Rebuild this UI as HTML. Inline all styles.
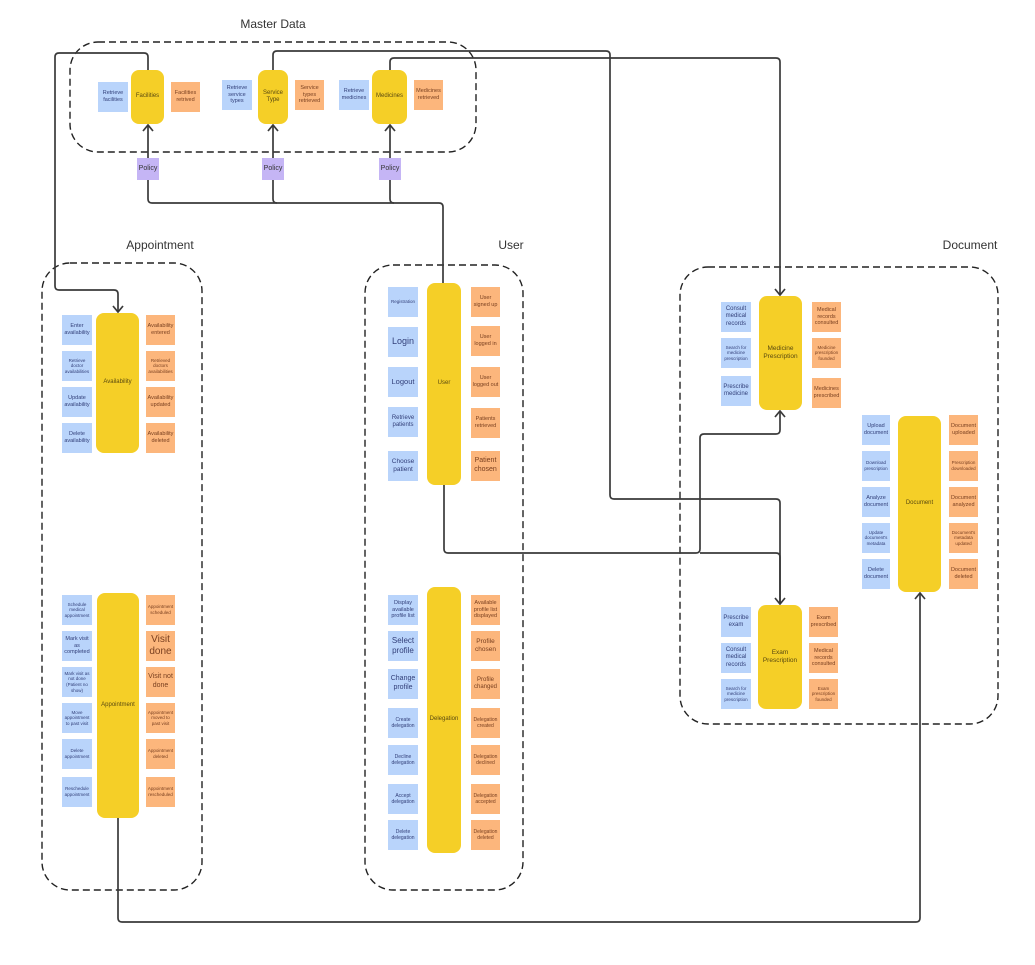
<!DOCTYPE html>
<html><head><meta charset="utf-8"><style>
body{margin:0;width:1035px;height:965px;background:#fff;position:relative;overflow:hidden;font-family:"Liberation Sans",sans-serif}
.b,.o,.y,.p{position:absolute;display:flex;align-items:center;justify-content:center;text-align:center;line-height:1.25;box-sizing:border-box;padding:1px}
.b{background:#b9d4fb;color:#33407a;font-size:5.5px;width:30px;height:30px}
.o{background:#fcb67c;color:#7a4020;font-size:5.5px;width:29px;height:30px}
.y{background:#f5cf27;border-radius:8px;color:#5a4a10;font-size:6px}
.p{background:#c5b5f5;color:#333;font-size:7px;width:22px;height:22px}
.t{position:absolute;font-size:12px;color:#333;transform:translateX(-50%)}
svg{position:absolute;left:0;top:0}
</style></head><body>
<svg width="1035" height="965">
<g fill="none" stroke="#222" stroke-width="1.4" stroke-dasharray="7,4">
<rect x="70" y="42" width="406" height="110" rx="28"/>
<rect x="42" y="263" width="160" height="627" rx="28"/>
<rect x="365" y="265" width="158" height="625" rx="28"/>
<rect x="680" y="267" width="318" height="457" rx="28"/>
</g>
<g fill="none" stroke="#3a3a3a" stroke-width="1.7">
<path d="M148 70 V57 q0-4-4-4 H59 q-4 0-4 4 V286 q0 4 4 4 H114 q4 0 4 4 V312"/>
<path d="M273 70 V55 q0-4 4-4 H606 q4 0 4 4 V495 q0 4 4 4 H776 q4 0 4 4 V604"/>
<path d="M390 70 V62 q0-4 4-4 H776 q4 0 4 4 V295"/>
<path d="M148 125 V199 q0 4 4 4 H439 q4 0 4 4 V283"/>
<path d="M273 125 V199 q0 4 4 4"/>
<path d="M390 125 V199 q0 4 4 4"/>
<path d="M444 485 V549 q0 4 4 4 H696 q4 0 4-4 V438 q0-4 4-4 H776 q4 0 4-4 V411"/>
<path d="M700 553 H776 q4 0 4 4 V604"/>
<path d="M118 818 V918 q0 4 4 4 H916 q4 0 4-4 V593"/>
<path d="M113 306 l5 6 l5-6 M775 289 l5 6 l5-6 M775 598 l5 6 l5-6 M143 131 l5-6 l5 6 M268 131 l5-6 l5 6 M385 131 l5-6 l5 6 M775 417 l5-6 l5 6 M915 599 l5-6 l5 6"/>
</g>
</svg>
<div class="t" style="left:273px;top:17px">Master Data</div>
<div class="t" style="left:160px;top:238px">Appointment</div>
<div class="t" style="left:511px;top:238px">User</div>
<div class="t" style="left:970px;top:238px">Document</div>

<div class="b" style="left:98px;top:82px">Retrieve facilities</div>
<div class="y" style="left:131px;top:70px;width:33px;height:54px">Facilities</div>
<div class="o" style="left:171px;top:82px">Facilities retrived</div>
<div class="b" style="left:222px;top:80px">Retrieve service types</div>
<div class="y" style="left:258px;top:70px;width:30px;height:54px">Service Type</div>
<div class="o" style="left:295px;top:80px">Service types retrieved</div>
<div class="b" style="left:339px;top:80px">Retrieve medicines</div>
<div class="y" style="left:372px;top:70px;width:35px;height:54px">Medicines</div>
<div class="o" style="left:414px;top:80px">Medicines retrieved</div>
<div class="p" style="left:137px;top:158px">Policy</div>
<div class="p" style="left:262px;top:158px">Policy</div>
<div class="p" style="left:379px;top:158px">Policy</div>

<div class="y" style="left:96px;top:313px;width:43px;height:140px">Availability</div>
<div class="b" style="left:62px;top:315px">Enter availability</div>
<div class="b" style="left:62px;top:351px;font-size:4.5px">Retrieve doctor availabilities</div>
<div class="b" style="left:62px;top:387px">Update availability</div>
<div class="b" style="left:62px;top:423px">Delete availability</div>
<div class="o" style="left:146px;top:315px">Availability entered</div>
<div class="o" style="left:146px;top:351px;font-size:4.5px">Retrieved doctors availabilities</div>
<div class="o" style="left:146px;top:387px">Availability updated</div>
<div class="o" style="left:146px;top:423px">Availability deleted</div>

<div class="y" style="left:97px;top:593px;width:42px;height:225px">Appointment</div>
<div class="b" style="left:62px;top:595px;font-size:4.5px">Schedule medical appointment</div>
<div class="b" style="left:62px;top:631px">Mark visit as completed</div>
<div class="b" style="left:62px;top:667px;font-size:4.5px">Mark visit as not done (Patient no show)</div>
<div class="b" style="left:62px;top:703px;font-size:4.5px">Move appointment to past visit</div>
<div class="b" style="left:62px;top:739px;font-size:4.5px">Delete appointment</div>
<div class="b" style="left:62px;top:777px;font-size:4.5px">Reschedule appointment</div>
<div class="o" style="left:146px;top:595px;font-size:4.5px">Appointment scheduled</div>
<div class="o" style="left:146px;top:631px;font-size:10px">Visit done</div>
<div class="o" style="left:146px;top:667px;font-size:7px">Visit not done</div>
<div class="o" style="left:146px;top:703px;font-size:4.5px">Appointment moved to past visit</div>
<div class="o" style="left:146px;top:739px;font-size:4.5px">Appointment deleted</div>
<div class="o" style="left:146px;top:777px;font-size:4.5px">Appointment rescheduled</div>

<div class="y" style="left:427px;top:283px;width:34px;height:202px">User</div>
<div class="b" style="left:388px;top:287px;font-size:4.5px">Registration</div>
<div class="b" style="left:388px;top:327px;font-size:9px">Login</div>
<div class="b" style="left:388px;top:367px;font-size:7.5px">Logout</div>
<div class="b" style="left:388px;top:407px;font-size:6px">Retrieve patients</div>
<div class="b" style="left:388px;top:451px;font-size:6.5px">Choose patient</div>
<div class="o" style="left:471px;top:287px">User signed up</div>
<div class="o" style="left:471px;top:326px">User logged in</div>
<div class="o" style="left:471px;top:367px">User logged out</div>
<div class="o" style="left:471px;top:408px">Patients retrieved</div>
<div class="o" style="left:471px;top:451px;font-size:7px">Patient chosen</div>

<div class="y" style="left:427px;top:587px;width:34px;height:266px">Delegation</div>
<div class="b" style="left:388px;top:595px">Display available profile list</div>
<div class="b" style="left:388px;top:631px;font-size:8px">Select profile</div>
<div class="b" style="left:388px;top:669px;font-size:7px">Change profile</div>
<div class="b" style="left:388px;top:708px;font-size:5px">Create delegation</div>
<div class="b" style="left:388px;top:745px;font-size:5px">Decline delegation</div>
<div class="b" style="left:388px;top:784px;font-size:5px">Accept delegation</div>
<div class="b" style="left:388px;top:820px;font-size:5px">Delete delegation</div>
<div class="o" style="left:471px;top:595px">Available profile list displayed</div>
<div class="o" style="left:471px;top:631px;font-size:6.5px">Profile chosen</div>
<div class="o" style="left:471px;top:669px;font-size:6px">Profile changed</div>
<div class="o" style="left:471px;top:708px;font-size:5px">Delegation created</div>
<div class="o" style="left:471px;top:745px;font-size:5px">Delegation declined</div>
<div class="o" style="left:471px;top:784px;font-size:5px">Delegation accepted</div>
<div class="o" style="left:471px;top:820px;font-size:5px">Delegation deleted</div>

<div class="y" style="left:759px;top:296px;width:43px;height:114px;font-size:6.5px">Medicine Prescription</div>
<div class="b" style="left:721px;top:302px;font-size:6px">Consult medical records</div>
<div class="b" style="left:721px;top:338px;font-size:4.5px">Search for medicine prescription</div>
<div class="b" style="left:721px;top:376px;font-size:6px">Prescribe medicine</div>
<div class="o" style="left:812px;top:302px">Medical records consulted</div>
<div class="o" style="left:812px;top:338px;font-size:4.5px">Medicine prescription founded</div>
<div class="o" style="left:812px;top:378px">Medicines prescribed</div>

<div class="y" style="left:898px;top:416px;width:43px;height:176px">Document</div>
<div class="b" style="left:862px;top:415px;width:28px">Upload document</div>
<div class="b" style="left:862px;top:451px;width:28px;font-size:4.5px">Download prescription</div>
<div class="b" style="left:862px;top:487px;width:28px">Analyze document</div>
<div class="b" style="left:862px;top:523px;width:28px;font-size:4.5px">Update document's metadata</div>
<div class="b" style="left:862px;top:559px;width:28px">Delete document</div>
<div class="o" style="left:949px;top:415px">Document uploaded</div>
<div class="o" style="left:949px;top:451px;font-size:4.5px">Prescription downloaded</div>
<div class="o" style="left:949px;top:487px">Document analyzed</div>
<div class="o" style="left:949px;top:523px;font-size:4.5px">Document's metadata updated</div>
<div class="o" style="left:949px;top:559px">Document deleted</div>

<div class="y" style="left:758px;top:605px;width:44px;height:104px;font-size:6.5px">Exam Prescription</div>
<div class="b" style="left:721px;top:607px;font-size:6px">Prescribe exam</div>
<div class="b" style="left:721px;top:643px;font-size:6px">Consult medical records</div>
<div class="b" style="left:721px;top:679px;font-size:4.5px">Search for medicine prescription</div>
<div class="o" style="left:809px;top:607px">Exam prescribed</div>
<div class="o" style="left:809px;top:643px">Medical records consulted</div>
<div class="o" style="left:809px;top:679px;font-size:4.5px">Exam prescription founded</div>
</body></html>
